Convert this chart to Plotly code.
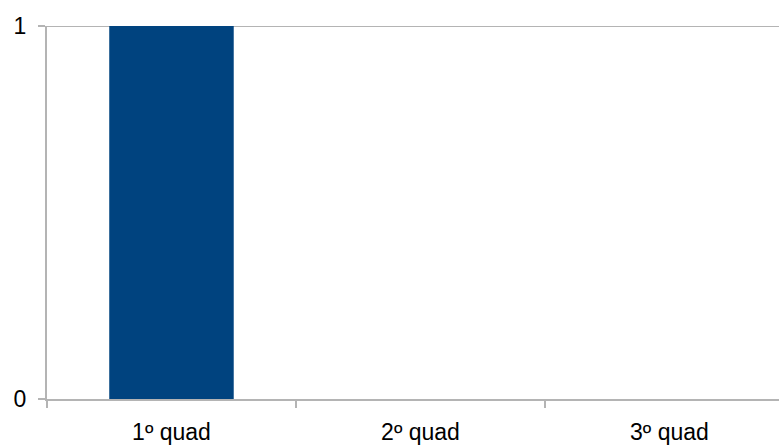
import plotly.graph_objects as go

# Category labels and values per quadrimester
categories = ["1º quad", "2º quad", "3º quad"]
values = [1, 0, 0]
y_ticks = [0, 1]

axis_grey = "#b4b4b4"
bar_blue = "#00437f"

positions = list(range(len(categories)))
boundaries = [p - 0.5 for p in positions]

fig = go.Figure(
    go.Bar(
        x=positions,
        y=values,
        marker=dict(color=bar_blue, line=dict(width=0)),
        width=0.5,
    )
)

fig.update_layout(
    width=779,
    height=446,
    margin=dict(l=47, r=0, t=26, b=47),
    paper_bgcolor="white",
    plot_bgcolor="white",
    showlegend=False,
    font=dict(family="Liberation Sans, Arial, sans-serif", size=23, color="black"),
)

# Horizontal gridline at the top value, kept beneath the bar
fig.add_shape(
    type="line", xref="paper", yref="y",
    x0=0, x1=1, y0=y_ticks[-1], y1=y_ticks[-1],
    line=dict(color=axis_grey, width=2), layer="below",
)

# Category labels at slot centres; tick marks between slots
fig.update_xaxes(
    range=[-0.5, 2.44],
    tickvals=positions,
    ticktext=categories,
    showline=True,
    linecolor=axis_grey,
    linewidth=2,
    ticks="",
    minor=dict(ticks="outside", tickvals=boundaries, ticklen=7,
               tickwidth=1.5, tickcolor=axis_grey, showgrid=False),
    showgrid=False,
    zeroline=False,
    automargin=False,
    ticklabelstandoff=11,
)

fig.update_yaxes(
    range=[0, 1],
    tickvals=y_ticks,
    ticktext=[str(v) for v in y_ticks],
    showline=True,
    linecolor=axis_grey,
    linewidth=2,
    ticks="outside",
    ticklen=7,
    tickwidth=1.5,
    tickcolor=axis_grey,
    showgrid=False,
    zeroline=False,
    automargin=False,
    ticklabelstandoff=7,
)

fig.write_html("out.html")
